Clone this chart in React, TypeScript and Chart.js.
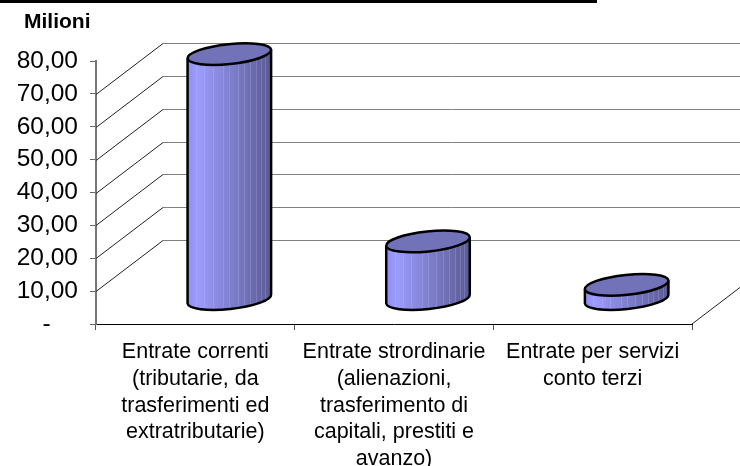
import React, { useEffect, useRef } from "react";
import { Chart, registerables } from "chart.js";

Chart.register(...registerables);

const categories = [
  ["Entrate correnti", "(tributarie, da", "trasferimenti ed", "extratributarie)"],
  ["Entrate strordinarie", "(alienazioni,", "trasferimento di", "capitali, prestiti e", "avanzo)"],
  ["Entrate per servizi", "conto terzi"],
];
const values = [74.5, 17.5, 4.3];
const wallValues = [10, 20, 30, 40, 50, 60, 70];
const stripes = [0.1, 0.2, 0.3, 0.43, 0.5, 0.6, 0.68, 0.75, 0.82, 0.88, 0.93];

const DEPTH_X = 67;
const DEPTH_Y = 51;
const RX = 42;
const RY = 10;
const TILT = (-6 * Math.PI) / 180;

const depthPlugin = {
  id: "depth",
  beforeDraw(chart: any) {
    if (chart.titleBlock) chart.titleBlock.left = 24;
  },
  beforeDatasetsDraw(chart: any) {
    const { ctx, chartArea: a, scales } = chart;
    const y = scales.y;
    ctx.save();
    ctx.fillStyle = "#000";
    ctx.fillRect(0, 0, 597, 3);
    ctx.lineWidth = 1;
    wallValues.forEach((v) => {
      const py = Math.round(y.getPixelForValue(v)) + 0.5;
      ctx.strokeStyle = "#222";
      ctx.beginPath();
      ctx.moveTo(a.left, py);
      ctx.lineTo(a.left + DEPTH_X, py - DEPTH_Y);
      ctx.stroke();
      ctx.strokeStyle = "#808080";
      ctx.beginPath();
      ctx.moveTo(a.left + DEPTH_X, py - DEPTH_Y);
      ctx.lineTo(740, py - DEPTH_Y);
      ctx.stroke();
    });
    ctx.strokeStyle = "#222";
    const by = y.getPixelForValue(0);
    ctx.beginPath();
    ctx.moveTo(a.right, by);
    ctx.lineTo(a.right + 48, by - 48 * (DEPTH_Y / DEPTH_X));
    ctx.stroke();
    ctx.restore();
  },
  afterDatasetsDraw(chart: any) {
    const { ctx, scales } = chart;
    const meta = chart.getDatasetMeta(0);
    const baseY = scales.y.getPixelForValue(0) - 25;
    const dx = 34;
    const ex = RX * Math.cos(TILT);
    const ey = RX * Math.sin(TILT);
    ctx.save();
    meta.data.forEach((bar: any) => {
      const cx = bar.x + dx;
      const topY = bar.y - 25;
      const g = ctx.createLinearGradient(cx - ex, 0, cx + ex, 0);
      g.addColorStop(0, "#8f8ff2");
      g.addColorStop(0.12, "#9c9cff");
      g.addColorStop(0.55, "#7c7cca");
      g.addColorStop(1, "#5a5a94");
      ctx.beginPath();
      ctx.moveTo(cx - ex, topY - ey);
      ctx.lineTo(cx + ex, topY + ey);
      ctx.lineTo(cx + ex, baseY + ey);
      ctx.ellipse(cx, baseY, RX, RY, TILT, 0, Math.PI, false);
      ctx.closePath();
      ctx.fillStyle = g;
      ctx.fill();
      ctx.save();
      ctx.clip();
      ctx.strokeStyle = "rgba(205,205,255,0.22)";
      ctx.lineWidth = 1;
      stripes.forEach((s) => {
        const sx = Math.round(cx - ex + 2 * ex * s) + 0.5;
        ctx.beginPath();
        ctx.moveTo(sx, topY - 20);
        ctx.lineTo(sx, baseY + 20);
        ctx.stroke();
      });
      ctx.restore();
      ctx.strokeStyle = "#000";
      ctx.lineWidth = 2.5;
      ctx.beginPath();
      ctx.moveTo(cx - ex, topY - ey);
      ctx.lineTo(cx - ex, baseY - ey);
      ctx.ellipse(cx, baseY, RX, RY, TILT, Math.PI, 0, true);
      ctx.lineTo(cx + ex, topY + ey);
      ctx.stroke();
      ctx.beginPath();
      ctx.ellipse(cx, topY, RX, RY, TILT, 0, Math.PI * 2);
      ctx.fillStyle = "#7272b8";
      ctx.fill();
      ctx.stroke();
    });
    ctx.restore();
  },
};

export default function App() {
  const ref = useRef<HTMLCanvasElement>(null);
  useEffect(() => {
    document.body.style.margin = "0";
    const chart = new Chart(ref.current!, {
      type: "bar",
      data: {
        labels: categories as any,
        datasets: [{ data: values, backgroundColor: "rgba(0,0,0,0)", borderWidth: 0 }],
      },
      plugins: [depthPlugin],
      options: {
        responsive: false,
        animation: false,
        layout: { padding: { left: 0, right: 48, top: 0, bottom: 0 } },
        plugins: {
          legend: { display: false },
          tooltip: { enabled: false },
          title: {
            display: true,
            text: "Milioni",
            align: "start",
            color: "#000",
            font: { family: "'Liberation Sans'", size: 21, weight: "bold", lineHeight: 1.2 },
            padding: { top: 10, bottom: 25.8 },
          },
        },
        scales: {
          x: {
            afterFit: (s: any) => { s.height = 142; },
            border: { color: "#000", width: 1 },
            grid: { display: true, drawOnChartArea: false, drawTicks: true, tickLength: 6, color: "#555", offset: true },
            ticks: {
              autoSkip: false,
              maxRotation: 0,
              minRotation: 0,
              color: "#000",
              padding: 9,
              font: { family: "'Liberation Sans'", size: 21.5, lineHeight: 1.24 },
            },
          },
          y: {
            min: 0,
            max: 80,
            afterFit: (s: any) => { s.width = 96; },
            border: { color: "#777", width: 2 },
            grid: { display: true, drawOnChartArea: false, tickLength: 6, color: "#666" },
            ticks: {
              stepSize: 10,
              color: "#000",
              padding: 12,
              font: { family: "'Liberation Sans'", size: 24.5 },
              callback: (v: any) => (v === 0 ? "-\u00a0\u00a0\u00a0\u00a0" : Number(v).toFixed(2).replace(".", ",")),
            },
          },
        },
      } as any,
    });
    return () => chart.destroy();
  }, []);
  return <canvas ref={ref} width={740} height={466} style={{ display: "block" }} />;
}
